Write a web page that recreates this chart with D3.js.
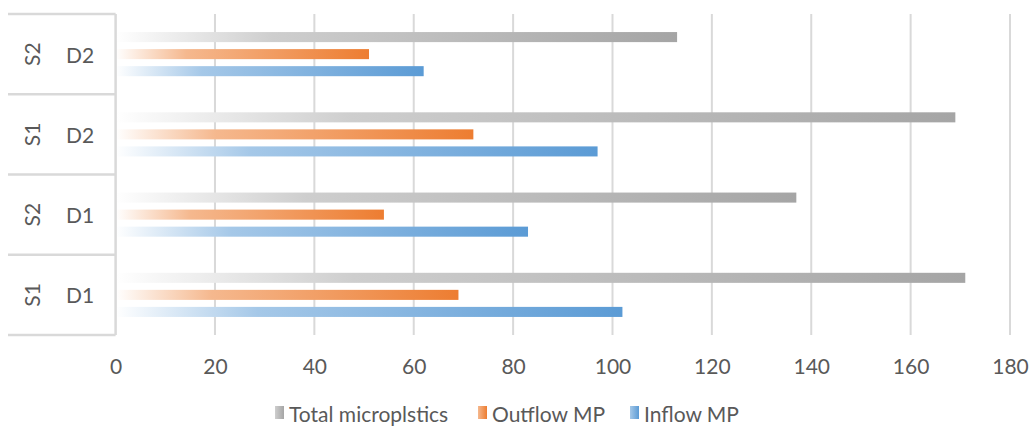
<!DOCTYPE html>
<html><head><meta charset="utf-8">
<script src="https://cdn.jsdelivr.net/npm/d3@7"></script>
<style>
html,body{margin:0;padding:0;background:#fff;}
svg{display:block;font-family:Lato,"Open Sans",sans-serif;}
</style></head>
<body><svg id="c" width="1033" height="432"></svg>
<script>
// ---- data ----
const groups = ["S2", "S1", "S2", "S1"];           // outer level (rotated)
const subgroups = ["D2", "D2", "D1", "D1"];        // inner level
const seriesNames = ["Total microplstics", "Outflow MP", "Inflow MP"];
const totalMP = [113, 169, 137, 171];
const outflowMP = [51, 72, 54, 69];
const inflowMP = [62, 97, 83, 102];
const xTicks = [0, 20, 40, 60, 80, 100, 120, 140, 160, 180];
const seriesColors = ["#a5a5a5", "#ed7d31", "#5b9bd5"];

const seriesValues = [totalMP, outflowMP, inflowMP];
const cats = groups.map((g, i) => g + "|" + subgroups[i] + "|" + i);

const svg = d3.select("#c");
const plotTop = 14, plotBottom = 335;
const x = d3.scaleLinear().domain([0, 180]).range([115.6, 1010]);
const y = d3.scaleBand().domain(cats).range([plotTop, plotBottom]).padding(0);
const bw = y.bandwidth();
const ySub = d3.scaleBand().domain(seriesNames).range([bw * 0.225, bw * 0.775]).paddingInner(0.41);

// gradients
const defs = svg.append("defs");
seriesColors.forEach((c, i) => {
  const g = defs.append("linearGradient").attr("id", "g" + i)
    .attr("x1", "0%").attr("x2", "100%").attr("y1", "0%").attr("y2", "0%");
  const tint = d3.interpolateRgb("#ffffff", c)(0.55);
  g.append("stop").attr("offset", "0%").attr("stop-color", "#ffffff");
  g.append("stop").attr("offset", "28%").attr("stop-color", tint);
  g.append("stop").attr("offset", "100%").attr("stop-color", c);
  const lg = defs.append("linearGradient").attr("id", "lg" + i)
    .attr("x1", "0%").attr("x2", "100%").attr("y1", "0%").attr("y2", "0%");
  lg.append("stop").attr("offset", "0%").attr("stop-color", tint);
  lg.append("stop").attr("offset", "100%").attr("stop-color", c);
});

// gridlines
svg.append("g").selectAll("line").data(xTicks.slice(1)).join("line")
  .attr("x1", d => x(d)).attr("x2", d => x(d))
  .attr("y1", plotTop).attr("y2", plotBottom)
  .attr("stroke", "#d9d9d9").attr("stroke-width", 2);

// bars
const barG = svg.append("g");
cats.forEach((c, ci) => {
  seriesNames.forEach((s, si) => {
    barG.append("rect")
      .attr("x", x(0))
      .attr("y", y(c) + ySub(s))
      .attr("width", x(seriesValues[si][ci]) - x(0))
      .attr("height", ySub.bandwidth())
      .attr("fill", "url(#g" + si + ")");
  });
});

// vertical axis line + category separators
const axisX = x(0);
svg.append("line").attr("x1", axisX).attr("x2", axisX)
  .attr("y1", plotTop).attr("y2", plotBottom)
  .attr("stroke", "#d9d9d9").attr("stroke-width", 2.5);
const seps = cats.map(c => y(c)).concat([plotBottom]);
svg.append("g").selectAll("line").data(seps).join("line")
  .attr("x1", 8).attr("x2", axisX)
  .attr("y1", d => d).attr("y2", d => d)
  .attr("stroke", "#d9d9d9").attr("stroke-width", 2.5);

// category labels
const fs = 21;
const lab = svg.append("g").attr("fill", "#595959").attr("font-size", fs);
cats.forEach((c, i) => {
  const cy = y(c) + bw / 2;
  lab.append("text").attr("x", 80).attr("y", cy).attr("text-anchor", "middle")
    .attr("dominant-baseline", "central").text(subgroups[i]);
  lab.append("text").attr("transform", `translate(31,${cy}) rotate(-90)`)
    .attr("text-anchor", "middle").attr("dominant-baseline", "central").text(groups[i]);
});

// x axis tick labels
const xAxis = d3.axisBottom(x).tickValues(xTicks).tickSize(0).tickPadding(0).tickFormat(d3.format("d"));
const xa = svg.append("g").attr("transform", `translate(0,${367})`).call(xAxis);
xa.select(".domain").remove();
xa.selectAll("text").attr("fill", "#595959").attr("font-size", fs)
  .attr("font-family", "Lato, sans-serif").attr("dy", "0.32em").attr("y", 0);

// legend
const legendX = [275, 478, 630];
const leg = svg.append("g");
seriesNames.forEach((s, i) => {
  leg.append("rect").attr("x", legendX[i]).attr("y", 406).attr("width", 9).attr("height", 13)
    .attr("fill", "url(#lg" + i + ")");
  leg.append("text").attr("x", legendX[i] + 14).attr("y", 413).attr("dominant-baseline", "central")
    .attr("fill", "#595959").attr("font-size", fs).text(s);
});
</script></body></html>
